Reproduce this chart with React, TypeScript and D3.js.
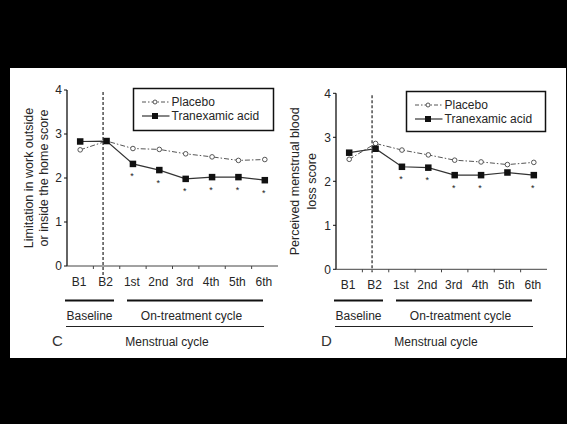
import React, { useRef, useEffect } from "react";
import * as d3 from "d3";

// menstrual cycles on the x axis
const categories = ["B1", "B2", "1st", "2nd", "3rd", "4th", "5th", "6th"];
const yTicks = [0, 1, 2, 3, 4];
const seriesNames = ["Placebo", "Tranexamic acid"];

// panel C: limitation in work outside / inside the home
const placeboC = [2.64, 2.84, 2.67, 2.65, 2.55, 2.48, 2.4, 2.42];
const tranexamicC = [2.83, 2.84, 2.32, 2.18, 1.98, 2.02, 2.02, 1.95];
const significantC = [false, false, true, true, true, true, true, true];

// panel D: perceived menstrual blood loss
const placeboD = [2.5, 2.86, 2.71, 2.6, 2.48, 2.44, 2.38, 2.43];
const tranexamicD = [2.65, 2.74, 2.33, 2.31, 2.14, 2.14, 2.2, 2.14];
const significantD = [false, false, true, true, true, true, false, true];

const FONT = "'Liberation Sans', Arial, Helvetica, sans-serif";
const TEXT = "#262626";

const panels = [
  {
    letter: "C",
    yLabel: ["Limitation in work outside", "or inside the home score"],
    labelX: [29, 44],
    placebo: placeboC,
    tranexamic: tranexamicC,
    significant: significantC,
    x0: 67,
    x1: 278,
    yBottom: 266,
    yTop: 90,
    legend: { x: 133.5, y: 88.5, w: 140, h: 42 },
    dashBelow: 9,
  },
  {
    letter: "D",
    yLabel: ["Perceived menstrual blood", "loss score"],
    labelX: [295, 312],
    placebo: placeboD,
    tranexamic: tranexamicD,
    significant: significantD,
    x0: 336,
    x1: 547,
    yBottom: 269.3,
    yTop: 93.3,
    legend: { x: 406.5, y: 91.5, w: 139, h: 40 },
    dashBelow: 3,
  },
];

const App = () => {
  const svgRef = useRef(null);

  useEffect(() => {
    const svg = d3.select(svgRef.current);
    svg.selectAll("*").remove();
    const width = 567;
    const height = 424;

    svg.append("rect").attr("width", width).attr("height", height).attr("fill", "#000");
    svg.append("rect").attr("x", 10).attr("y", 68).attr("width", 556).attr("height", 290).attr("fill", "#fff");

    panels.forEach((p) => {
      const g = svg.append("g").style("font-family", FONT);

      const x = d3.scaleBand().domain(categories).range([p.x0, p.x1]);
      const y = d3.scaleLinear().domain([0, 4]).range([p.yBottom, p.yTop]);
      const cx = (c) => x(c) + x.bandwidth() / 2;

      // y axis
      g.append("line")
        .attr("x1", p.x0).attr("x2", p.x0)
        .attr("y1", y(0)).attr("y2", y(4))
        .attr("stroke", "#111").attr("stroke-width", 1.3);
      yTicks.forEach((t) => {
        g.append("line")
          .attr("x1", p.x0 - 3).attr("x2", p.x0)
          .attr("y1", y(t)).attr("y2", y(t))
          .attr("stroke", "#111");
        g.append("text")
          .attr("x", p.x0 - 5).attr("y", y(t) + 4.3)
          .attr("text-anchor", "end")
          .attr("font-size", 12).attr("fill", TEXT)
          .text(t);
      });

      // x axis, ticks between cycles
      g.append("line")
        .attr("x1", p.x0).attr("x2", p.x1)
        .attr("y1", y(0)).attr("y2", y(0))
        .attr("stroke", "#444").attr("stroke-width", 1);
      categories.slice(1).forEach((c) => {
        g.append("line")
          .attr("x1", x(c)).attr("x2", x(c))
          .attr("y1", y(0)).attr("y2", y(0) + 3)
          .attr("stroke", "#444");
      });
      categories.forEach((c) => {
        g.append("text")
          .attr("x", cx(c) - 1).attr("y", y(0) + 19.5)
          .attr("text-anchor", "middle")
          .attr("font-size", 12).attr("fill", TEXT)
          .text(c);
      });

      // dashed separator at B2
      g.append("line")
        .attr("x1", cx("B2") - 3.5).attr("x2", cx("B2") - 3.5)
        .attr("y1", y(4) + 2).attr("y2", y(0) + p.dashBelow)
        .attr("stroke", "#222").attr("stroke-width", 1.2)
        .attr("stroke-dasharray", "3,2");

      // y label
      p.yLabel.forEach((line, i) => {
        g.append("text")
          .attr("transform", `translate(${p.labelX[i]},${(y(0) + y(4)) / 2}) rotate(-90)`)
          .attr("text-anchor", "middle")
          .attr("dominant-baseline", "central")
          .attr("font-size", 12.5).attr("fill", TEXT)
          .text(line);
      });

      // placebo: dash-dot line with open circles
      const linePlacebo = d3.line()
        .x((d, i) => cx(categories[i]))
        .y((d) => y(d));
      g.append("path")
        .datum(p.placebo)
        .attr("d", linePlacebo)
        .attr("fill", "none")
        .attr("stroke", "#555").attr("stroke-width", 1)
        .attr("stroke-dasharray", "5,2,1.5,2");

      // tranexamic acid: solid line with squares
      g.append("path")
        .datum(p.tranexamic)
        .attr("d", linePlacebo)
        .attr("fill", "none")
        .attr("stroke", "#333").attr("stroke-width", 1.2);

      p.placebo.forEach((v, i) => {
        g.append("circle")
          .attr("cx", cx(categories[i])).attr("cy", y(v))
          .attr("r", 2.3)
          .attr("fill", "#fff").attr("stroke", "#555").attr("stroke-width", 1);
      });
      p.tranexamic.forEach((v, i) => {
        const s = 6.5;
        g.append("rect")
          .attr("x", cx(categories[i]) - s / 2).attr("y", y(v) - s / 2)
          .attr("width", s).attr("height", s)
          .attr("fill", "#111");
        if (p.significant[i]) {
          g.append("text")
            .attr("x", cx(categories[i]) - 1).attr("y", y(v) + 15.5)
            .attr("text-anchor", "middle")
            .attr("font-size", 9).attr("fill", "#222")
            .text("*");
        }
      });

      // legend
      const L = p.legend;
      g.append("rect")
        .attr("x", L.x).attr("y", L.y)
        .attr("width", L.w).attr("height", L.h)
        .attr("fill", "#fff").attr("stroke", "#111").attr("stroke-width", 1.5);
      seriesNames.forEach((name, i) => {
        const ry = L.y + 13.5 + i * 14;
        g.append("line")
          .attr("x1", L.x + 8.5).attr("x2", L.x + 36)
          .attr("y1", ry).attr("y2", ry)
          .attr("stroke", i === 0 ? "#555" : "#333")
          .attr("stroke-width", i === 0 ? 1 : 1.2)
          .attr("stroke-dasharray", i === 0 ? "4,2,1.5,2" : null);
        if (i === 0) {
          g.append("circle")
            .attr("cx", L.x + 21.5).attr("cy", ry).attr("r", 2)
            .attr("fill", "#fff").attr("stroke", "#555");
        } else {
          g.append("rect")
            .attr("x", L.x + 18.5).attr("y", ry - 3)
            .attr("width", 6).attr("height", 6).attr("fill", "#111");
        }
        g.append("text")
          .attr("x", L.x + 38).attr("y", ry + 4.3)
          .attr("font-size", 12).attr("fill", TEXT)
          .text(name);
      });

      // group bars under the axis
      g.append("line")
        .attr("x1", p.x0 - 2).attr("x2", p.x0 + 47)
        .attr("y1", 300.5).attr("y2", 300.5)
        .attr("stroke", "#111").attr("stroke-width", 2);
      g.append("line")
        .attr("x1", p.x0 + 60).attr("x2", p.x0 + 196)
        .attr("y1", 300.5).attr("y2", 300.5)
        .attr("stroke", "#111").attr("stroke-width", 2);
      g.append("text")
        .attr("x", p.x0 + 22.5).attr("y", 319.5)
        .attr("text-anchor", "middle")
        .attr("font-size", 12).attr("fill", TEXT)
        .text("Baseline");
      g.append("text")
        .attr("x", p.x0 + 124.5).attr("y", 319.5)
        .attr("text-anchor", "middle")
        .attr("font-size", 12).attr("fill", TEXT)
        .text("On-treatment cycle");
      g.append("line")
        .attr("x1", p.x0 - 1).attr("x2", p.x0 + 197)
        .attr("y1", 326.5).attr("y2", 326.5)
        .attr("stroke", "#222").attr("stroke-width", 1.2);
      g.append("text")
        .attr("x", p.x0 + 100).attr("y", 345.5)
        .attr("text-anchor", "middle")
        .attr("font-size", 12).attr("fill", TEXT)
        .text("Menstrual cycle");
      g.append("text")
        .attr("x", p.x0 - 9.5).attr("y", 346)
        .attr("text-anchor", "middle")
        .attr("font-size", 15).attr("fill", "#333")
        .text(p.letter);
    });
  }, []);

  return (
    <svg
      ref={svgRef}
      width={567}
      height={424}
      style={{ position: "absolute", left: 0, top: 0 }}
    ></svg>
  );
};

export default App;
